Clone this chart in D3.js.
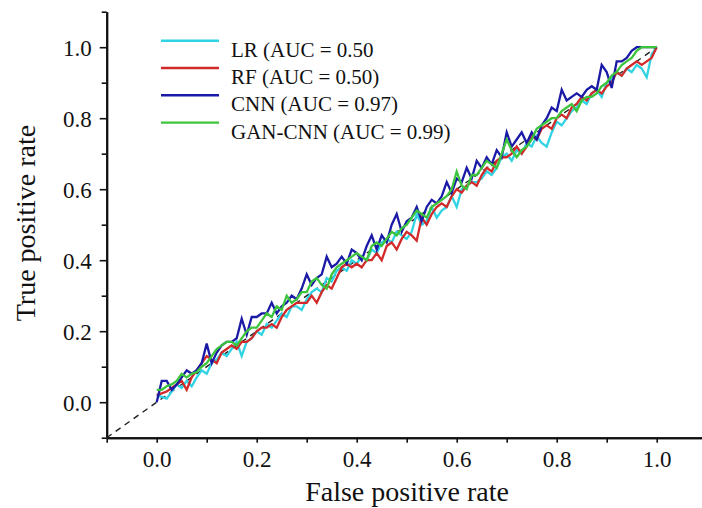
<!DOCTYPE html>
<html><head><meta charset="utf-8">
<script src="https://cdn.jsdelivr.net/npm/d3@7"></script>
<style>
html,body{margin:0;padding:0;background:#fff;}
svg{display:block;font-family:"Liberation Serif","Times New Roman",serif;}
</style></head>
<body>
<svg id="chart" width="702" height="508"></svg>
<script>
// ---- data ----
const fpr = [0,0.01,0.02,0.03,0.04,0.05,0.06,0.07,0.08,0.09,0.10,0.11,0.12,0.13,0.14,0.15,0.16,0.17,0.18,0.19,0.20,0.21,0.22,0.23,0.24,0.25,0.26,0.27,0.28,0.29,0.30,0.31,0.32,0.33,0.34,0.35,0.36,0.37,0.38,0.39,0.40,0.41,0.42,0.43,0.44,0.45,0.46,0.47,0.48,0.49,0.50,0.51,0.52,0.53,0.54,0.55,0.56,0.57,0.58,0.59,0.60,0.61,0.62,0.63,0.64,0.65,0.66,0.67,0.68,0.69,0.70,0.71,0.72,0.73,0.74,0.75,0.76,0.77,0.78,0.79,0.80,0.81,0.82,0.83,0.84,0.85,0.86,0.87,0.88,0.89,0.90,0.91,0.92,0.93,0.94,0.95,0.96,0.97,0.98,0.99,1.00];
const tprLR = [0.02,0.015,0.01,0.03,0.05,0.04,0.06,0.045,0.07,0.09,0.08,0.11,0.12,0.14,0.13,0.15,0.17,0.13,0.17,0.18,0.20,0.19,0.22,0.21,0.23,0.25,0.24,0.27,0.27,0.26,0.29,0.31,0.32,0.31,0.35,0.34,0.37,0.38,0.37,0.40,0.39,0.41,0.40,0.43,0.42,0.45,0.46,0.45,0.48,0.47,0.46,0.48,0.53,0.50,0.51,0.55,0.52,0.54,0.55,0.58,0.55,0.60,0.61,0.62,0.62,0.63,0.65,0.64,0.66,0.69,0.70,0.68,0.71,0.70,0.73,0.72,0.75,0.73,0.72,0.76,0.79,0.78,0.80,0.82,0.83,0.85,0.84,0.87,0.88,0.86,0.90,0.91,0.93,0.92,0.94,0.93,0.95,0.94,0.915,0.98,1.00];
const tprRF = [0.02,0.025,0.03,0.04,0.05,0.06,0.035,0.07,0.09,0.11,0.13,0.12,0.11,0.14,0.15,0.16,0.15,0.17,0.17,0.18,0.20,0.21,0.21,0.22,0.21,0.24,0.26,0.27,0.28,0.28,0.28,0.30,0.28,0.31,0.33,0.32,0.35,0.38,0.39,0.38,0.39,0.38,0.40,0.40,0.42,0.40,0.44,0.45,0.43,0.46,0.48,0.47,0.455,0.52,0.50,0.53,0.55,0.56,0.55,0.58,0.60,0.59,0.61,0.62,0.61,0.64,0.66,0.65,0.68,0.69,0.69,0.70,0.72,0.70,0.72,0.75,0.74,0.77,0.78,0.77,0.80,0.81,0.80,0.83,0.84,0.86,0.85,0.87,0.88,0.87,0.89,0.90,0.93,0.92,0.94,0.95,0.96,0.95,0.96,0.97,1.00];
const tprCNN = [0,0.06,0.06,0.035,0.05,0.07,0.09,0.08,0.09,0.11,0.165,0.11,0.14,0.16,0.17,0.17,0.18,0.235,0.19,0.24,0.24,0.25,0.25,0.28,0.25,0.27,0.28,0.30,0.29,0.32,0.36,0.33,0.35,0.36,0.41,0.38,0.39,0.41,0.39,0.43,0.42,0.40,0.44,0.47,0.43,0.47,0.45,0.50,0.53,0.48,0.51,0.52,0.55,0.51,0.55,0.57,0.56,0.58,0.62,0.59,0.63,0.62,0.66,0.63,0.68,0.66,0.69,0.67,0.71,0.69,0.76,0.72,0.74,0.76,0.73,0.76,0.74,0.78,0.80,0.83,0.82,0.88,0.85,0.86,0.87,0.86,0.88,0.89,0.88,0.95,0.93,0.885,0.96,0.96,0.97,0.99,1.00,1.00,1.00,1.00,1.00];
const tprGAN = [0.035,0.035,0.045,0.05,0.06,0.08,0.07,0.08,0.085,0.10,0.11,0.13,0.15,0.16,0.17,0.17,0.16,0.18,0.20,0.21,0.21,0.23,0.25,0.24,0.27,0.26,0.30,0.28,0.29,0.31,0.31,0.34,0.35,0.33,0.32,0.36,0.38,0.39,0.40,0.41,0.42,0.41,0.40,0.44,0.45,0.44,0.46,0.48,0.47,0.49,0.50,0.52,0.54,0.53,0.52,0.55,0.56,0.57,0.58,0.60,0.65,0.61,0.60,0.64,0.64,0.66,0.68,0.67,0.66,0.70,0.74,0.71,0.69,0.71,0.72,0.74,0.77,0.78,0.79,0.80,0.80,0.82,0.83,0.84,0.82,0.85,0.86,0.86,0.87,0.89,0.90,0.92,0.93,0.95,0.96,0.97,0.99,1.00,1.00,1.00,1.00];
const seriesNames = ["LR (AUC = 0.50","RF (AUC = 0.50)","CNN (AUC = 0.97)","GAN-CNN (AUC = 0.99)"];
const seriesColors = ["#2fd3e3","#d22a2a","#1a1aa6","#3cc43c"];
const majorTicks = [0,0.2,0.4,0.6,0.8,1.0];
const minorTicks = [-0.1,0.1,0.3,0.5,0.7,0.9,1.1];
const diagonal = [-0.1,1.0];

const seriesData = [tprLR,tprRF,tprCNN,tprGAN];

const svg = d3.select("#chart");
const x = d3.scaleLinear().domain([-0.1,1.1]).range([106.7,706.7]);
const y = d3.scaleLinear().domain([-0.1,1.1]).range([437.7,11.7]);

// axes
const axisColor = "#111";
const xMinor = svg.append("g").attr("transform",`translate(0,${y(-0.1)})`)
  .call(d3.axisBottom(x).tickValues(minorTicks).tickSize(5).tickSizeOuter(0).tickFormat(""));
const xMajor = svg.append("g").attr("transform",`translate(0,${y(-0.1)})`)
  .call(d3.axisBottom(x).tickValues(majorTicks).tickSize(5).tickSizeOuter(0).tickPadding(8).tickFormat(d3.format(".1f")));
const yMinor = svg.append("g").attr("transform",`translate(${x(-0.1)},0)`)
  .call(d3.axisLeft(y).tickValues(minorTicks).tickSize(5).tickSizeOuter(0).tickFormat(""));
const yMajor = svg.append("g").attr("transform",`translate(${x(-0.1)},0)`)
  .call(d3.axisLeft(y).tickValues(majorTicks).tickSize(7).tickSizeOuter(0).tickPadding(8).tickFormat(d3.format(".1f")));
[xMinor,xMajor,yMinor,yMajor].forEach(g=>{
  g.selectAll("path.domain").attr("stroke",axisColor).attr("stroke-width",2);
  g.selectAll(".tick line").attr("stroke",axisColor).attr("stroke-width",1.6);
  g.selectAll(".tick text").attr("fill","#111").style("font-size","23px").style("font-family",'"Liberation Serif","Times New Roman",serif');
});
yMajor.selectAll(".tick text").attr("dy","0.36em");
xMajor.selectAll(".tick text").attr("dy","0.72em");

// diagonal
svg.append("line")
  .attr("x1",x(diagonal[0])).attr("y1",y(diagonal[0]))
  .attr("x2",x(diagonal[1])).attr("y2",y(diagonal[1]))
  .attr("stroke","#222").attr("stroke-width",1.4).attr("stroke-dasharray","6,5");

// series
const line = d3.line().x((d,i)=>x(fpr[i])).y(d=>y(d));
seriesData.forEach((s,k)=>{
  svg.append("path").datum(s).attr("d",line)
    .attr("fill","none").attr("stroke",seriesColors[k]).attr("stroke-width",2.3)
    .attr("stroke-linejoin","miter");
});

// legend
const lg = svg.append("g");
seriesNames.forEach((n,k)=>{
  const ly = 40.7 + k*27.3;
  lg.append("line").attr("x1",161).attr("x2",219).attr("y1",ly).attr("y2",ly)
    .attr("stroke",seriesColors[k]).attr("stroke-width",2.4);
  lg.append("text").attr("x",231).attr("y",ly+16).text(n)
    .attr("fill","#111").style("font-size","21px");
});

// axis titles
svg.append("text").attr("x",407).attr("y",501).attr("text-anchor","middle")
  .style("font-size","28px").attr("fill","#111").text("False positive rate");
svg.append("text").attr("transform","translate(35,223) rotate(-90)").attr("text-anchor","middle")
  .style("font-size","28px").attr("fill","#111").text("True positive rate");
</script>
</body></html>
